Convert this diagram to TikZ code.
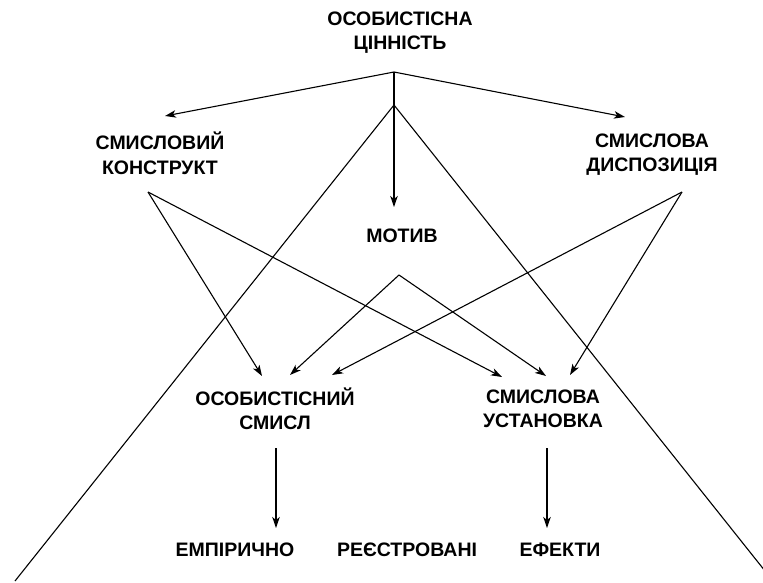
\documentclass[tikz,border=0pt]{standalone}
\usepackage{fontspec}
\setmainfont{Liberation Sans}
\usetikzlibrary{arrows.meta}
\begin{document}
\begin{tikzpicture}[x=1pt,y=1pt,
  lbl/.style={font=\fontsize{19.5}{24.5}\selectfont\bfseries, align=center, inner sep=0pt},
  conn/.style={line width=1.1pt},
  arr/.style={conn, -{Stealth[length=11pt,width=7.5pt,inset=3pt]}}]
\path[use as bounding box] (0,0) rectangle (763,-582);
\clip (0,0) rectangle (763,-582);
% text nodes
\node[lbl] (top) at (400,-32.5) {ОСОБИСТІСНА\\ЦІННІСТЬ};
\node[lbl] (ck) at (160,-153.5) {СМИСЛОВИЙ\\КОНСТРУКТ};
\node[lbl] (sd) at (652,-154.5) {СМИСЛОВА\\ДИСПОЗИЦІЯ};
\node[lbl] (mot) at (402,-236) {МОТИВ};
\node[lbl] (os) at (275,-409) {ОСОБИСТІСНИЙ\\СМИСЛ};
\node[lbl] (su) at (543,-409) {СМИСЛОВА\\УСТАНОВКА};
\node[lbl] (e1) at (235,-550) {ЕМПІРИЧНО};
\node[lbl] (e2) at (407,-550) {РЕЄСТРОВАНІ};
\node[lbl] (e3) at (560,-550) {ЕФЕКТИ};
% junction coordinates
\coordinate (apex) at (394,-72);
\coordinate (apexb) at (394,-105);
\coordinate (ckin) at (165,-116);
\coordinate (sdin) at (625,-117);
\coordinate (motin) at (394,-207);
\coordinate (ckout) at (148,-192);
\coordinate (sdout) at (682,-192);
\coordinate (motout) at (399,-275);
\coordinate (osa) at (262,-376);
\coordinate (osb) at (290,-375);
\coordinate (osc) at (332,-375);
\coordinate (sua) at (502,-377);
\coordinate (sub) at (546,-376);
\coordinate (suc) at (570,-375);
\coordinate (osdn) at (276,-448);
\coordinate (sudn) at (547,-448);
\coordinate (e1in) at (276,-528);
\coordinate (e3in) at (547,-528);
\coordinate (leftend) at (15,-581);
\coordinate (rightend) at (773,-581);
% connectors
\draw[arr] (apex) -- (ckin);
\draw[arr] (apex) -- (sdin);
\draw[arr] (apex) -- (motin);
\draw[conn] (apexb) -- (leftend);
\draw[conn] (apexb) -- (rightend);
\draw[arr] (ckout) -- (osa);
\draw[arr] (ckout) -- (sua);
\draw[arr] (motout) -- (osb);
\draw[arr] (motout) -- (sub);
\draw[arr] (sdout) -- (osc);
\draw[arr] (sdout) -- (suc);
\draw[arr] (osdn) -- (e1in);
\draw[arr] (sudn) -- (e3in);
\end{tikzpicture}
\end{document}
